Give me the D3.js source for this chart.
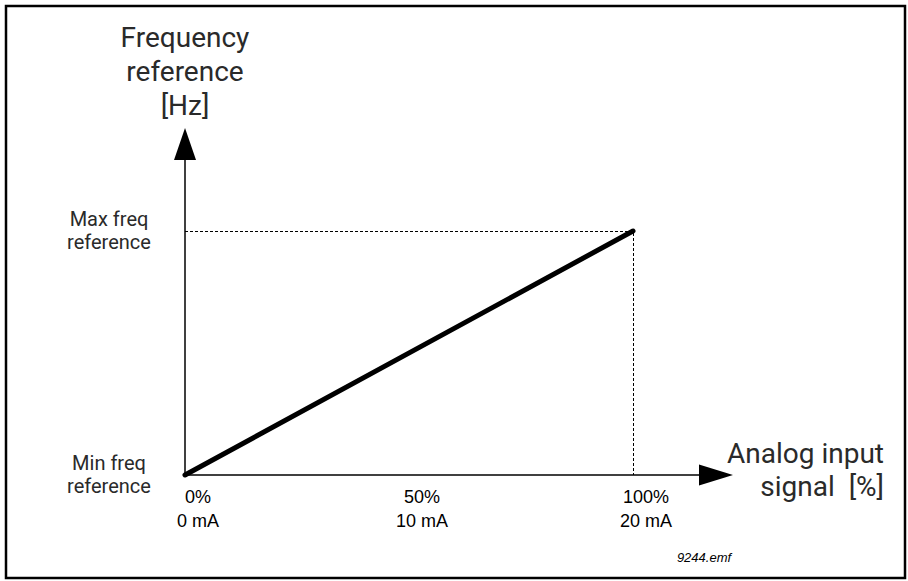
<!DOCTYPE html>
<html>
<head>
<meta charset="utf-8">
<script src="https://cdn.jsdelivr.net/npm/d3@7"></script>
<style>
  body { margin: 0; background: #fff; }
  .din { font-family: Roboto, "DejaVu Sans", sans-serif; fill: #2a2a2a; }
  .tick { font-family: "Liberation Sans", Arial, sans-serif; font-size: 18px; fill: #000; }
</style>
</head>
<body>
<script>
// signal in % of input range, frequency reference in % of min..max range
var signalPct = [0, 100];
var freqPct = [0, 100];

var xTickValues = [0, 50, 100];
var xTickPct = ["0%", "50%", "100%"];
var xTickMA = ["0 mA", "10 mA", "20 mA"];

var yTickValues = [0, 100];
var yTickLabels = [["Min freq", "reference"], ["Max freq", "reference"]];

var yTitle = ["Frequency", "reference", "[Hz]"];
var xTitle = ["Analog input", "signal  [%]"];

var width = 908, height = 581;

var x = d3.scaleLinear().domain([0, 100]).range([185, 633]);
var y = d3.scaleLinear().domain([0, 100]).range([475, 231]);

var svg = d3.select("body")
   .append("svg")
   .attr("width", width)
   .attr("height", height);

// frame
svg.append("rect")
   .attr("x", 6).attr("y", 6)
   .attr("width", 899).attr("height", 572)
   .attr("fill", "none")
   .attr("stroke", "#000")
   .attr("stroke-width", 2.5);

var x0 = x(0), y0 = y(0);

// dashed guides to the max point
var maxPt = { x: x(signalPct[1]), y: y(freqPct[1]) };
svg.append("path")
   .attr("d", "M" + x0 + "," + (maxPt.y + 0.5) + "H" + (maxPt.x + 0.5) + "V" + y0)
   .attr("fill", "none")
   .attr("stroke", "#000")
   .attr("stroke-width", 1)
   .attr("stroke-dasharray", "3,2");

// axes with arrow heads
svg.append("line")
   .attr("x1", x0).attr("y1", y0)
   .attr("x2", x0).attr("y2", 160)
   .attr("stroke", "#000").attr("stroke-width", 1.5);
svg.append("path")
   .attr("d", "M" + x0 + ",128L" + (x0 + 11) + ",160L" + (x0 - 11) + ",160Z")
   .attr("fill", "#000");

svg.append("line")
   .attr("x1", x0).attr("y1", y0)
   .attr("x2", 700).attr("y2", y0)
   .attr("stroke", "#000").attr("stroke-width", 1.5);
svg.append("path")
   .attr("d", "M733," + y0 + "L699," + (y0 - 10.5) + "L699," + (y0 + 10.5) + "Z")
   .attr("fill", "#000");

// the characteristic
var line = d3.line()
   .x(function(d, i) { return x(signalPct[i]); })
   .y(function(d) { return y(d); });

svg.append("path")
   .datum(freqPct)
   .attr("d", line)
   .attr("fill", "none")
   .attr("stroke", "#000")
   .attr("stroke-width", 5)
   .attr("stroke-linecap", "round");

// y axis title
svg.append("text")
   .attr("class", "din")
   .attr("text-anchor", "middle")
   .attr("font-size", 28)
   .selectAll("tspan")
   .data(yTitle)
   .enter().append("tspan")
   .attr("x", x0)
   .attr("y", function(d, i) { return 47 + i * 34; })
   .text(function(d) { return d; });

// y tick labels
yTickValues.forEach(function(v, i) {
   svg.append("text")
      .attr("class", "din")
      .attr("text-anchor", "middle")
      .attr("font-size", 20)
      .selectAll("tspan")
      .data(yTickLabels[i])
      .enter().append("tspan")
      .attr("x", 109)
      .attr("y", function(d, j) { return y(v) - 5 + j * 23; })
      .text(function(d) { return d; });
});

// x tick labels
xTickValues.forEach(function(v, i) {
   var g = svg.append("text")
      .attr("class", "tick")
      .attr("text-anchor", "middle");
   g.append("tspan").attr("x", x(v) + 13).attr("y", 503).text(xTickPct[i]);
   g.append("tspan").attr("x", x(v) + 13).attr("y", 527).text(xTickMA[i]);
});

// x axis title
svg.append("text")
   .attr("class", "din")
   .attr("text-anchor", "end")
   .attr("font-size", 28)
   .selectAll("tspan")
   .data(xTitle)
   .enter().append("tspan")
   .attr("x", 884)
   .attr("y", function(d, i) { return 463 + i * 33; })
   .style("white-space", "pre")
   .attr("xml:space", "preserve")
   .text(function(d) { return d; });

// file tag
svg.append("text")
   .attr("x", 704).attr("y", 562)
   .attr("text-anchor", "middle")
   .attr("font-family", "'Liberation Sans', Arial, sans-serif")
   .attr("font-style", "italic")
   .attr("font-size", 13)
   .text("9244.emf");
</script>
</body>
</html>
